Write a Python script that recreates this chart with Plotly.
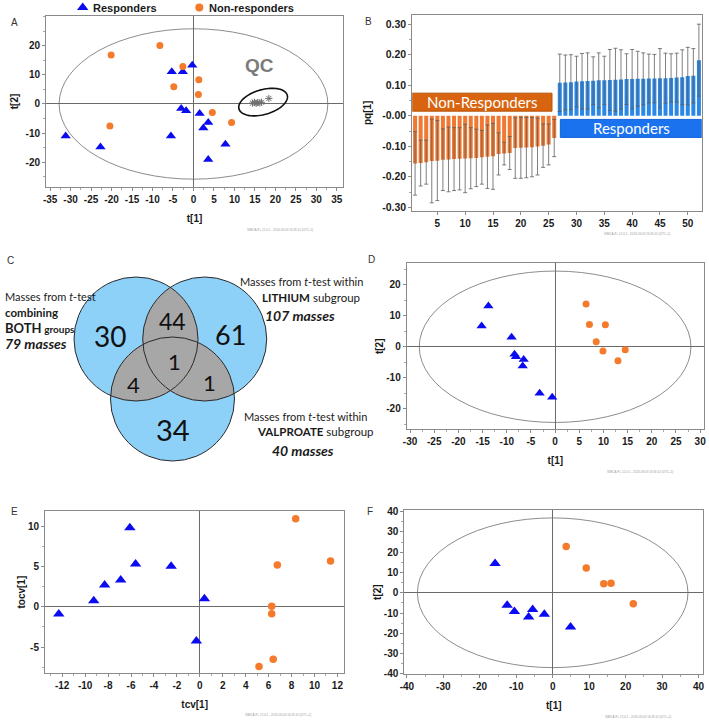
import numpy as np
import plotly.graph_objects as go

W, H = 709, 722
FONT = "Liberation Sans, Arial, sans-serif"
SOFT = "Lato, Noto Sans, sans-serif"
BLUE = "#0b0bef"
ORANGE = "#f47a2c"
FRAME = "#8a8a8a"

# ---- A: PCA scores, all samples + QC ----
a_resp_t1 = [-31.2, -22.7, -5.3, -2.6, -0.3, -3.0, -1.8, -5.5, 1.5, 2.4, 3.6, 3.6, 7.8]
a_resp_t2 = [-11.0, -14.8, 11.1, 11.1, 13.3, -1.6, -2.3, -11.0, -3.3, -8.3, -6.4, -19.1, -13.9]
a_non_t1 = [-20.1, -8.2, -2.6, 1.3, -4.8, 1.2, 4.6, 9.3, -20.4]
a_non_t2 = [16.9, 20.1, 12.9, 8.3, 5.9, 3.3, -2.9, -6.4, -7.6]
a_qc_t1 = [14.4, 14.9, 15.3, 15.7, 16.2, 16.6, 18.4]
a_qc_t2 = [0.3, 0.6, 0.2, 0.5, 0.4, 0.6, 1.9]
a_xticks = [-35, -30, -25, -20, -15, -10, -5, 0, 5, 10, 15, 20, 25, 30, 35]
a_yticks = [-20, -10, 0, 10, 20]

# ---- B: loadings pq[1] with jack-knife intervals ----
b_non_idx = list(range(1, 27))
b_non_pq = [-0.156, -0.155, -0.152, -0.148, -0.147, -0.144, -0.143, -0.142, -0.141,
            -0.140, -0.139, -0.138, -0.136, -0.134, -0.133, -0.125, -0.124, -0.122,
            -0.106, -0.105, -0.104, -0.103, -0.101, -0.098, -0.094, -0.073]
b_non_ci = [0.104, 0.075, 0.072, 0.137, 0.131, 0.101, 0.106, 0.103, 0.102, 0.112,
            0.100, 0.094, 0.088, 0.104, 0.108, 0.069, 0.037, 0.054, 0.099, 0.100,
            0.099, 0.097, 0.093, 0.071, 0.067, 0.061]
b_resp_idx = list(range(27, 53))
b_resp_pq = [0.108, 0.109, 0.110, 0.112, 0.113, 0.114, 0.115, 0.116, 0.116, 0.117,
             0.118, 0.119, 0.120, 0.120, 0.121, 0.121, 0.122, 0.122, 0.123, 0.123,
             0.124, 0.125, 0.126, 0.130, 0.131, 0.182]
b_resp_ci = [0.094, 0.090, 0.090, 0.083, 0.091, 0.092, 0.078, 0.090, 0.079, 0.100,
             0.103, 0.097, 0.083, 0.097, 0.090, 0.085, 0.080, 0.079, 0.097, 0.082,
             0.079, 0.080, 0.090, 0.094, 0.089, 0.118]
b_xticks = [5, 10, 15, 20, 25, 30, 35, 40, 45, 50]
b_yticks = [0.30, 0.20, 0.10, 0.0, -0.10, -0.20, -0.30]
b_yticktext = ["0.30", "0.20", "0.10", "-0.00", "-0.10", "-0.20", "-0.30"]

# ---- C: Venn counts ----
venn_regions = ["both", "both+li", "li", "all", "both+va", "li+va", "va"]
venn_counts = [30, 44, 61, 1, 4, 1, 34]
venn_set_sizes = [79, 107, 40]

# ---- D: lithium subgroup scores ----
d_resp_t1 = [-13.8, -15.2, -9.0, -8.4, -8.1, -6.5, -6.7, -3.2, -0.6]
d_resp_t2 = [13.1, 6.7, 3.1, -2.4, -3.2, -4.1, -6.2, -15.0, -16.3]
d_non_t1 = [6.4, 7.1, 10.4, 8.5, 9.9, 14.5, 13.0]
d_non_t2 = [13.8, 7.2, 7.1, 1.6, -1.4, -1.0, -4.5]
d_xticks = [-30, -25, -20, -15, -10, -5, 0, 5, 10, 15, 20, 25, 30]
d_yticks = [-20, -10, 0, 10, 20]

# ---- E: OPLS-DA cross-validated scores ----
e_resp_tcv = [-12.3, -9.25, -8.3, -6.9, -6.1, -5.6, -2.5, 0.4, -0.3]
e_resp_tocv = [-0.9, 0.74, 2.7, 3.3, 9.8, 5.3, 5.0, 1.0, -4.25]
e_non_tcv = [8.36, 11.4, 6.76, 6.27, 6.27, 6.4, 5.16]
e_non_tocv = [10.9, 5.66, 5.17, 0.05, -0.87, -6.5, -7.4]
e_xticks = [-12, -10, -8, -6, -4, -2, 0, 2, 4, 6, 8, 10, 12]
e_yticks = [-5, 0, 5, 10]

# ---- F: valproate subgroup scores ----
f_resp_t1 = [-15.8, -12.5, -10.5, -5.5, -6.6, -2.3, 4.9]
f_resp_t2 = [14.4, -6.1, -9.3, -8.2, -12.0, -10.6, -16.9]
f_non_t1 = [3.7, 9.2, 14.0, 16.0, 22.1]
f_non_t2 = [22.8, 12.2, 4.4, 4.7, -5.4]
f_ticks = [-40, -30, -20, -10, 0, 10, 20, 30, 40]


def dom_x(left, right):
    return [left / W, right / W]


def dom_y(top, bottom):
    return [1 - bottom / H, 1 - top / H]


def axis(domain, rng, tickvals, ticktext=None, title=None, minor_dtick=None,
         standoff=5, **kw):
    ax = dict(
        domain=domain, range=rng, tickmode="array", tickvals=tickvals,
        ticktext=ticktext or [str(v) for v in tickvals],
        showline=True, mirror=True, linecolor=FRAME, linewidth=1,
        ticks="outside", ticklen=3, tickcolor=FRAME, showgrid=False,
        zeroline=True, zerolinecolor="#6a6a6a", zerolinewidth=1,
        tickfont=dict(family=FONT, size=10, color="#1a1a1a", weight="bold"),
        fixedrange=True,
    )
    if minor_dtick:
        ax["minor"] = dict(ticks="outside", ticklen=2, tickcolor="#a8a8a8",
                           tickmode="linear", tick0=0, dtick=minor_dtick)
    if title:
        ax["title"] = dict(text=title, standoff=standoff,
                           font=dict(family=FONT, size=10, color="#1a1a1a", weight="bold"))
    ax.update(kw)
    return ax


def scores(fig, xs, ys, xa, ya, kind, size):
    sym = "triangle-up" if kind == "resp" else "circle"
    col = BLUE if kind == "resp" else ORANGE
    fig.add_trace(go.Scatter(x=xs, y=ys, mode="markers", xaxis=xa, yaxis=ya,
                             marker=dict(symbol=sym, size=size, color=col, line_width=0),
                             showlegend=False, cliponaxis=False))


fig = go.Figure()

# A
scores(fig, a_resp_t1, a_resp_t2, "x", "y", "resp", 9)
scores(fig, a_non_t1, a_non_t2, "x", "y", "non", 7)
fig.add_trace(go.Scatter(x=a_qc_t1, y=a_qc_t2, mode="markers", xaxis="x", yaxis="y",
                         marker=dict(symbol="asterisk-open", size=6, color="#707070",
                                     line=dict(width=1, color="#707070")),
                         showlegend=False))

# B
fig.add_trace(go.Bar(x=b_non_idx, y=b_non_pq, xaxis="x2", yaxis="y2",
                     marker=dict(color="#ef7932", line_width=0),
                     error_y=dict(type="data", array=b_non_ci, color="#5e5e5e",
                                  thickness=0.8, width=2),
                     showlegend=False))
fig.add_trace(go.Bar(x=b_resp_idx, y=b_resp_pq, xaxis="x2", yaxis="y2",
                     marker=dict(color="#2a87e6", line_width=0),
                     error_y=dict(type="data", array=b_resp_ci, color="#5e5e5e",
                                  thickness=0.8, width=2),
                     showlegend=False))

# D, E, F
scores(fig, d_resp_t1, d_resp_t2, "x4", "y4", "resp", 9)
scores(fig, d_non_t1, d_non_t2, "x4", "y4", "non", 7)
scores(fig, e_resp_tcv, e_resp_tocv, "x5", "y5", "resp", 10)
scores(fig, e_non_tcv, e_non_tocv, "x5", "y5", "non", 7.5)
scores(fig, f_resp_t1, f_resp_t2, "x6", "y6", "resp", 10)
scores(fig, f_non_t1, f_non_t2, "x6", "y6", "non", 7.5)

# legend symbols (pixel canvas)
fig.add_trace(go.Scatter(x=[82.7], y=[7.5], xaxis="x3", yaxis="y3", mode="markers",
                         marker=dict(symbol="triangle-up", size=10, color=BLUE),
                         showlegend=False, cliponaxis=False))
fig.add_trace(go.Scatter(x=[199.3], y=[7.5], xaxis="x3", yaxis="y3", mode="markers",
                         marker=dict(symbol="circle", size=8, color=ORANGE),
                         showlegend=False, cliponaxis=False))

shapes = []
ell = dict(type="circle", line=dict(color="#8c8c8c", width=1), layer="below")
shapes.append(dict(ell, xref="x", yref="y", x0=-32.8, x1=32.8, y0=-25.9, y1=25.9))
shapes.append(dict(ell, xref="x4", yref="y4", x0=-28.1, x1=28.1, y0=-24.4, y1=24.4))
shapes.append(dict(ell, xref="x6", yref="y6", x0=-37.1, x1=37.1, y0=-36.9, y1=36.9))

# QC ellipse (tilted)
t = np.linspace(0, 2 * np.pi, 80)
qx = 17.0 + 5.95 * np.cos(t)
qy = 0.65 + 4.4 * np.sin(t) + 0.3 * (qx - 17.0)
shapes.append(dict(type="path", xref="x", yref="y", line=dict(color="#111", width=1.6),
                   path="M " + " L ".join(f"{a:.3f},{b:.3f}" for a, b in zip(qx, qy)) + " Z"))

# B label boxes
shapes.append(dict(type="rect", xref="x2", yref="y2", x0=0.5, x1=25.6, y0=0.015, y1=0.074,
                   fillcolor="#d8640f", line=dict(color="#b65208", width=1)))
shapes.append(dict(type="rect", xref="x2", yref="y2", x0=27.1, x1=52.5, y0=-0.071, y1=-0.012,
                   fillcolor="#1a72ef", line=dict(color="#1462d6", width=1)))

# Venn (pixel canvas)
R = 62
centres = [(136.0, 339.0), (204.7, 339.0), (172.5, 399.0)]
for cx, cy in centres:
    shapes.append(dict(type="circle", xref="x3", yref="y3", x0=cx - R, x1=cx + R,
                       y0=cy - R, y1=cy + R, fillcolor="#8dd0f8", line_width=0))


def lens(c1, c2, r, n=360):
    ang = np.linspace(0, 2 * np.pi, n, endpoint=False)
    parts = []
    for (ax_, ay_), (bx, by) in ((c1, c2), (c2, c1)):
        px = ax_ + r * np.cos(ang)
        py = ay_ + r * np.sin(ang)
        inside = (px - bx) ** 2 + (py - by) ** 2 <= r * r
        parts.append(np.column_stack([px[inside], py[inside]]))
    pts = np.vstack(parts)
    mx, my = pts.mean(axis=0)
    pts = pts[np.argsort(np.arctan2(pts[:, 1] - my, pts[:, 0] - mx))]
    return "M " + " L ".join(f"{x:.2f},{y:.2f}" for x, y in pts) + " Z"


for i, j in ((0, 1), (0, 2), (1, 2)):
    shapes.append(dict(type="path", xref="x3", yref="y3", path=lens(centres[i], centres[j], R),
                       fillcolor="#a7a7a7", line_width=0))
for cx, cy in centres:
    shapes.append(dict(type="circle", xref="x3", yref="y3", x0=cx - R, x1=cx + R,
                       y0=cy - R, y1=cy + R, line=dict(color="#2a2a2a", width=1)))

ann = []


def txt(x, y, text, size, anchor="left", color="#1a1a1a", family=FONT, ref=("x3", "y3")):
    ann.append(dict(x=x, y=y, xref=ref[0], yref=ref[1], text=text, showarrow=False,
                    xanchor=anchor, yanchor="middle",
                    font=dict(family=family, size=size, color=color)))


# panel letters
for letter, x, y in (("A", 14, 22), ("B", 368, 21), ("C", 10, 260),
                     ("D", 371, 259), ("E", 14, 511), ("F", 370, 511)):
    txt(x, y, letter, 10, anchor="center", color="#333")

# legend text
txt(91, 7.5, "<b>Responders</b>", 11)
txt(207, 7.5, "<b>Non-responders</b>", 11)

# QC
txt(16.2, 13.4, "<b>QC</b>", 19, anchor="center", color="#7b7b7b", ref=("x", "y"))

# B box labels
txt(13.05, 0.0445, "Non-Responders", 15, anchor="center", color="white", family=SOFT, ref=("x2", "y2"))
txt(39.8, -0.0415, "Responders", 15, anchor="center", color="white", family=SOFT, ref=("x2", "y2"))

# Venn numbers
venn_pos = [(110, 336, 28), (172.3, 321, 23), (230, 334, 27), (174.3, 361, 22),
            (133.3, 384, 22), (209.3, 382, 22), (172.7, 429, 29)]
for (x, y, s), n in zip(venn_pos, venn_counts):
    txt(x, y, str(n), s, anchor="center", color="#111", family=SOFT)

# Venn set labels
txt(3, 296.7, "Masses from <i>t</i>-test", 11, family=SOFT)
txt(3, 312.7, "<b>combining</b>", 11.5, family=SOFT)
txt(3, 328, "<b><span style='font-size:13px'>BOTH</span></b> <b>groups</b>", 10, family=SOFT)
txt(3, 343.5, f"<b><i>{venn_set_sizes[0]} masses</i></b>", 14, family=SOFT)
txt(238, 281.7, "Masses from <i>t</i>-test within", 11, family=SOFT)
txt(260, 297.5, "<b>LITHIUM</b> subgroup", 11.5, family=SOFT)
txt(263, 315, f"<b><i>{venn_set_sizes[1]} masses</i></b>", 14, family=SOFT)
txt(241.5, 416.7, "Masses from <i>t</i>-test within", 11, family=SOFT)
txt(255, 431, "<b>VALPROATE</b> subgroup", 11.5, family=SOFT)
txt(270, 450, f"<b><i>{venn_set_sizes[2]} masses</i></b>", 14, family=SOFT)

# software stamps
stamp = "SIMCA-P+ 12.0.1 - 2013-09-03 16:35:10 (UTC+1)"
for x, y in ((245, 230), (602, 234), (605, 472), (243, 715), (603, 716.5)):
    txt(x, y, stamp, 3, color="#9a9a9a")

fig.update_layout(
    width=W, height=H, autosize=False,
    margin=dict(l=0, r=0, t=0, b=0, pad=0),
    paper_bgcolor="white", plot_bgcolor="rgba(0,0,0,0)",
    template="none", barmode="overlay", bargap=0.28,
    showlegend=False, shapes=shapes, annotations=ann,
    font=dict(family=FONT, color="#1a1a1a"),
    xaxis=axis(dom_x(46, 343), [-36.0, 36.5], a_xticks, title="t[1]", minor_dtick=2.5,
               standoff=10, anchor="y"),
    yaxis=axis(dom_y(16, 187), [-28.6, 30.3], a_yticks, title="t[2]", minor_dtick=5,
               standoff=5, anchor="x"),
    xaxis2=axis(dom_x(412.3, 701.7), [0.5, 52.5], b_xticks, zeroline=False, anchor="y2"),
    yaxis2=axis(dom_y(15, 210.7), [-0.311, 0.33], b_yticks, ticktext=b_yticktext,
                title="pq[1]", zeroline=False, minor_dtick=0.05, standoff=8, anchor="x2",
                tickfont=dict(family=FONT, size=10.5, color="#1a1a1a", weight="bold")),
    xaxis3=dict(domain=[0, 1], range=[0, W], visible=False, fixedrange=True, anchor="y3"),
    yaxis3=dict(domain=[0, 1], range=[H, 0], visible=False, fixedrange=True, anchor="x3"),
    xaxis4=axis(dom_x(406.7, 704), [-30.7, 30.8], d_xticks, title="t[1]", minor_dtick=2.5,
                standoff=10, anchor="y4"),
    yaxis4=axis(dom_y(263.3, 429.3), [-26.6, 26.9], d_yticks, title="t[2]", minor_dtick=5,
                standoff=0, anchor="x4"),
    xaxis5=axis(dom_x(45, 344.3), [-13.5, 12.6], e_xticks, title="tcv[1]", minor_dtick=1,
                standoff=10, anchor="y5"),
    yaxis5=axis(dom_y(511, 673.3), [-8.25, 11.86], e_yticks, title="tocv[1]", minor_dtick=2.5,
                standoff=0, anchor="x5"),
    xaxis6=axis(dom_x(404.3, 703.3), [-40.7, 41.3], f_ticks, title="t[1]", minor_dtick=5,
                standoff=10, anchor="y6"),
    yaxis6=axis(dom_y(510, 674.3), [-40.2, 40.8], f_ticks, title="t[2]", minor_dtick=5,
                standoff=0, anchor="x6"),
)

fig.write_html("out.html", config={"displayModeBar": False},
               post_script="document.body.style.margin='0';")
